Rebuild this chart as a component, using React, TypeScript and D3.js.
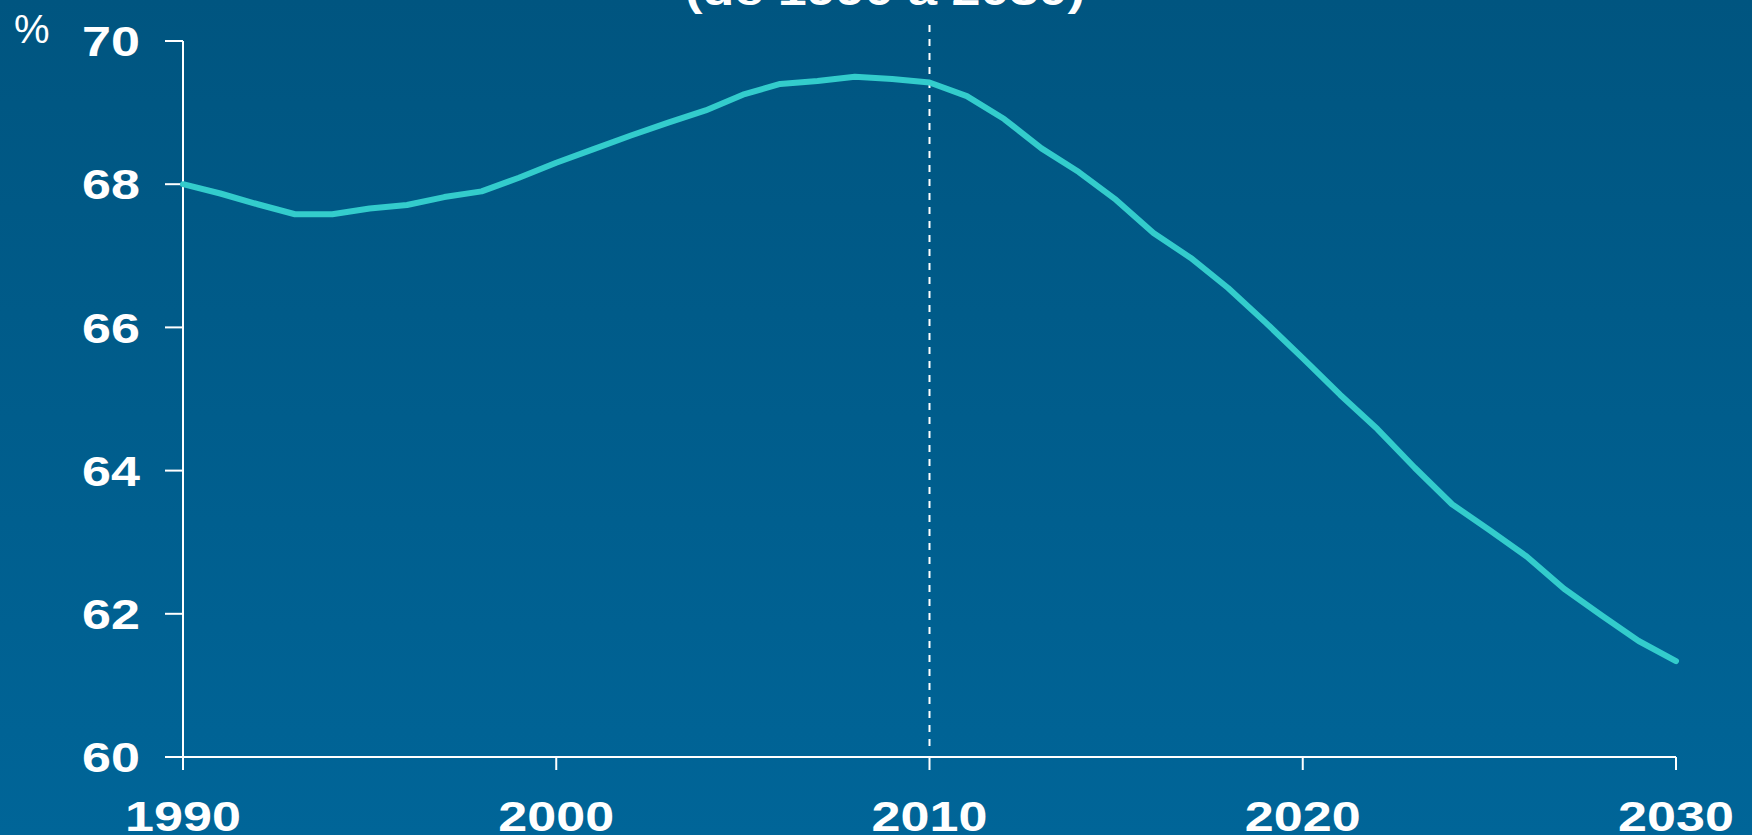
import React from "react";
import * as d3 from "d3";

const years = [
  1990, 1991, 1992, 1993, 1994, 1995, 1996, 1997, 1998, 1999, 2000, 2001, 2002, 2003, 2004, 2005, 2006, 2007, 2008, 2009, 2010,
  2011, 2012, 2013, 2014, 2015, 2016, 2017, 2018, 2019, 2020, 2021, 2022, 2023, 2024, 2025, 2026, 2027, 2028, 2029, 2030,
];
const values = [
  68.0, 67.87, 67.72, 67.58, 67.58, 67.66, 67.71, 67.82, 67.9, 68.09, 68.3, 68.49, 68.68, 68.86, 69.03, 69.25, 69.4, 69.44, 69.5, 69.47, 69.42,
  69.23, 68.91, 68.5, 68.17, 67.78, 67.32, 66.97, 66.55, 66.07, 65.57, 65.06, 64.58, 64.04, 63.53, 63.17, 62.8, 62.35, 61.98, 61.62, 61.34,
];
const yTicks = [60, 62, 64, 66, 68, 70];
const xTicks = [1990, 2000, 2010, 2020, 2030];
const title = "(de 1990 à 2030)";
const unit = "%";
const markerYear = 2010;

export default function App() {
  const W = 1752;
  const H = 835;
  const x = d3.scaleLinear().domain([1990, 2030]).range([183, 1676]);
  const y = d3.scaleLinear().domain([60, 70]).range([757, 41]);
  const line = d3
    .line<number>()
    .x((_, i) => x(years[i]))
    .y((d) => y(d))
    .curve(d3.curveLinear);
  const font = "'Liberation Sans', Arial, Helvetica, sans-serif";
  const sx = 1.24;
  const fs = 42;
  const x0 = x(1990);
  return (
    <svg width={W} height={H} style={{ position: "absolute", left: 0, top: 0, display: "block" }} fontFamily={font}>
      <defs>
        <linearGradient id="bg" x1="0" y1="0" x2="0" y2="1">
          <stop offset="0" stopColor="#005580" />
          <stop offset="1" stopColor="#006598" />
        </linearGradient>
      </defs>
      <rect x={0} y={0} width={W} height={H} fill="url(#bg)" />
      <text transform={`translate(885,5) scale(${sx},1)`} textAnchor="middle" fill="#fff" fontWeight="bold" fontSize={fs}>
        {title}
      </text>
      <text x={14} y={43} fill="#fff" fontSize={40}>
        {unit}
      </text>
      {/* y axis */}
      <line x1={x0} x2={x0} y1={y(70)} y2={y(60) + 13} stroke="#fff" strokeWidth={2} />
      {yTicks.map((t) => (
        <g key={t}>
          <line x1={x0 - 18} x2={x0} y1={y(t)} y2={y(t)} stroke="#fff" strokeWidth={2} />
          <text
            transform={`translate(140,${y(t)}) scale(${sx},1)`}
            dy="0.36em"
            textAnchor="end"
            fill="#fff"
            fontWeight="bold"
            fontSize={fs}
          >
            {t}
          </text>
        </g>
      ))}
      {/* x axis */}
      <line x1={x0 - 18} x2={x(2030)} y1={y(60)} y2={y(60)} stroke="#fff" strokeWidth={2} />
      {xTicks.map((t) => (
        <g key={t}>
          <line x1={x(t)} x2={x(t)} y1={y(60)} y2={y(60) + 13} stroke="#fff" strokeWidth={2} />
          <text
            transform={`translate(${x(t)},831) scale(${sx},1)`}
            textAnchor="middle"
            fill="#fff"
            fontWeight="bold"
            fontSize={fs}
          >
            {t}
          </text>
        </g>
      ))}
      <line
        x1={x(markerYear)}
        x2={x(markerYear)}
        y1={25}
        y2={749}
        stroke="#fff"
        strokeWidth={2}
        strokeDasharray="7,7"
      />
      <path d={line(values) || ""} fill="none" stroke="#33cccc" strokeWidth={6} strokeLinejoin="round" strokeLinecap="round" />
    </svg>
  );
}
